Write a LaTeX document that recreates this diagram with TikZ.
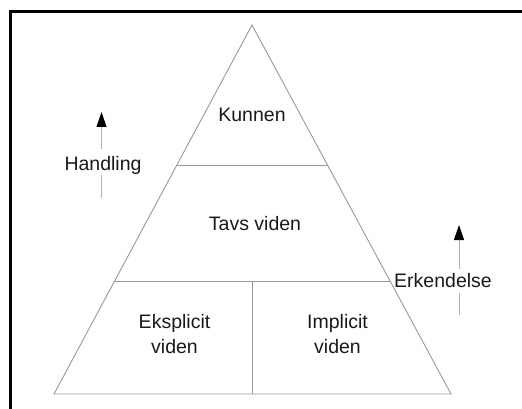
\documentclass[tikz,border=0pt]{standalone}
\usepackage{fontspec}
\setmainfont{Liberation Sans}
\usetikzlibrary{arrows.meta,calc}
\tikzset{
	part/.style={draw=black!40, line width=0.9pt},
	lbl/.style={font=\fontsize{19.5}{25}\selectfont, text=black!90, inner sep=0pt},
	shaft/.style={draw=black!30, line width=1pt},
	up/.style={shaft, -{Triangle[black, length=15pt, width=10pt]}}
}
\begin{document}
		\begin{tikzpicture}[x=1pt, y=-1pt]
			\useasboundingbox (0,0) rectangle (522,409);
			\draw[line width=3pt] (10.5,409) -- (10.5,12) -- (522,12);
			\coordinate (apex) at (252,25);
			\coordinate (bl) at (54,394);
			\coordinate (br) at (451,394);
			\coordinate (l1) at ($(apex)!0.3794!(bl)$);
			\coordinate (r1) at ($(apex)!0.3794!(br)$);
			\coordinate (l2) at ($(apex)!0.6938!(bl)$);
			\coordinate (r2) at ($(apex)!0.6938!(br)$);
			\draw[part] (apex) -- (bl) -- (br) -- cycle;
			\draw[part] (l1) -- (r1);
			\draw[part] (l2) -- (r2);
			\draw[part] (l2 -| apex) -- (bl -| apex);
			\foreach \n/\x/\y/\t in {kunnen/252/122/Kunnen, tavs/255/230/Tavs viden,
				handling/103/171/Handling, erk/443/287/Erkendelse}{
				\node[lbl, anchor=base] (\n) at (\x,\y) {\t};
			}
			\node[lbl, align=center] (eksplicit) at (174.5,334) {Eksplicit\\viden};
			\node[lbl, align=center] (implicit) at (337.5,334) {Implicit\\viden};
			\coordinate (h0) at (101.5,198);
			\coordinate (h1) at (101.5,175);
			\coordinate (h2) at (101.5,149);
			\coordinate (h3) at (101.5,112);
			\draw[shaft] (h0) -- (h1);
			\draw[up] (h2) -- (h3);
			\coordinate (e0) at (459,315);
			\coordinate (e1) at (459,293);
			\coordinate (e2) at (459,269);
			\coordinate (e3) at (459,225);
			\draw[shaft] (e0) -- (e1);
			\draw[up] (e2) -- (e3);
		\end{tikzpicture}
\end{document}
